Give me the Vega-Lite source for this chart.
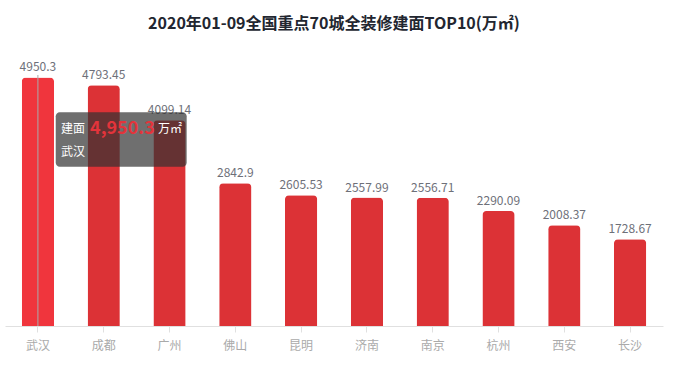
{
  "$schema": "https://vega.github.io/schema/vega-lite/v6.json",
  "width": 658,
  "height": 251,
  "autosize": "none",
  "padding": {"left": 5, "top": 75, "right": 22, "bottom": 51},
  "title": {
    "text": "2020年01-09全国重点70城全装修建面TOP10(万㎡)",
    "fontSize": 16,
    "font": "Noto Sans CJK SC",
    "fontWeight": "bold",
    "color": "#222630",
    "offset": 29,
    "anchor": "middle"
  },
  "config": {"view": {"stroke": null}, "font": "Noto Sans CJK SC"},
  "resolve": {"scale": {"x": "independent"}, "axis": {"x": "independent"}},
  "layer": [
    {
      "data": {
        "values": [
          {"city": "武汉", "value": 4950.3},
          {"city": "成都", "value": 4793.45},
          {"city": "广州", "value": 4099.14},
          {"city": "佛山", "value": 2842.9},
          {"city": "昆明", "value": 2605.53},
          {"city": "济南", "value": 2557.99},
          {"city": "南京", "value": 2556.71},
          {"city": "杭州", "value": 2290.09},
          {"city": "西安", "value": 2008.37},
          {"city": "长沙", "value": 1728.67}
        ]
      },
      "encoding": {
        "x": {
          "field": "city",
          "type": "nominal",
          "sort": null,
          "scale": {"paddingInner": 0.51, "paddingOuter": 0.255},
          "axis": {
            "title": null,
            "labelAngle": 0,
            "labelColor": "#aaaaaa",
            "labelFontSize": 12,
            "labelFont": "Noto Sans CJK SC",
            "domainColor": "#e0e0e0",
            "tickColor": "#e0e0e0",
            "tickSize": 6,
            "labelPadding": 8,
            "grid": false
          }
        },
        "y": {
          "field": "value",
          "type": "quantitative",
          "scale": {"domain": [0, 5000], "nice": false},
          "axis": null
        }
      },
      "layer": [
        {
          "mark": {"type": "bar", "cornerRadiusTopLeft": 4, "cornerRadiusTopRight": 4},
          "encoding": {
            "color": {
              "condition": {"test": "datum.city === '武汉'", "value": "#f0353d"},
              "value": "#dc3236"
            }
          }
        },
        {
          "mark": {"type": "text", "dy": -6, "baseline": "alphabetic", "fontSize": 12, "color": "#6e7079"},
          "encoding": {"text": {"field": "value", "type": "nominal"}}
        },
        {
          "transform": [{"filter": "datum.city === '武汉'"}],
          "mark": {"type": "rule", "color": "#aaaaaa", "strokeWidth": 1},
          "encoding": {"y": null}
        }
      ]
    },
    {
      "data": {"values": [{"city": "武汉", "value": 4950.3, "label": "建面", "unit": "万㎡"}]},
      "layer": [
        {
          "mark": {"type": "rect", "color": "#323232", "opacity": 0.7, "cornerRadius": 4},
          "encoding": {
            "x": {"datum": 0.771, "type": "quantitative", "scale": {"domain": [0, 10], "nice": false, "zero": false}, "axis": null},
            "x2": {"datum": 2.761},
            "y": {"datum": 4257, "type": "quantitative"},
            "y2": {"datum": 3173}
          }
        },
        {
          "mark": {"type": "text", "align": "left", "baseline": "middle", "fontSize": 12, "color": "#ffffff"},
          "encoding": {
            "x": {"datum": 0.851, "type": "quantitative"},
            "y": {"datum": 3924, "type": "quantitative"},
            "text": {"field": "label"}
          }
        },
        {
          "mark": {"type": "text", "align": "left", "baseline": "middle", "fontSize": 18, "fontWeight": "bold", "color": "#e3343b"},
          "encoding": {
            "x": {"datum": 1.292, "type": "quantitative"},
            "y": {"datum": 3924, "type": "quantitative"},
            "text": {"field": "value", "type": "quantitative", "format": ",.1f"}
          }
        },
        {
          "mark": {"type": "text", "align": "left", "baseline": "middle", "fontSize": 12, "color": "#ffffff"},
          "encoding": {
            "x": {"datum": 2.325, "type": "quantitative"},
            "y": {"datum": 3924, "type": "quantitative"},
            "text": {"field": "unit"}
          }
        },
        {
          "mark": {"type": "text", "align": "left", "baseline": "middle", "fontSize": 12, "color": "#ffffff"},
          "encoding": {
            "x": {"datum": 0.851, "type": "quantitative"},
            "y": {"datum": 3466, "type": "quantitative"},
            "text": {"field": "city"}
          }
        }
      ]
    }
  ]
}
